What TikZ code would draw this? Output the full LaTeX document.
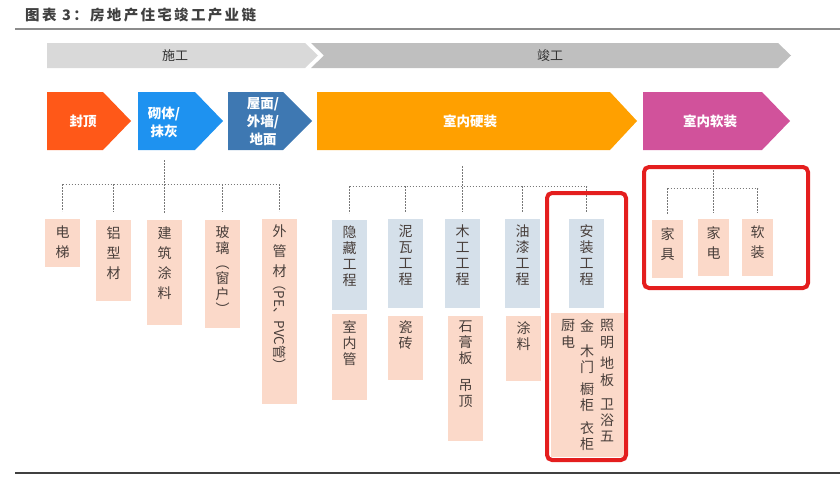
\documentclass[tikz,border=0pt]{standalone}
\usepackage{fontspec}
\newfontfamily\cjk{Noto Sans CJK SC}
\usepackage{graphicx}
\definecolor{peach}{RGB}{251,217,201}
\definecolor{bluegray}{RGB}{213,224,234}
\definecolor{txt}{RGB}{72,62,58}
\definecolor{cfeng}{RGB}{255,88,24}
\definecolor{cqi}{RGB}{30,146,240}
\definecolor{cwu}{RGB}{62,120,178}
\definecolor{cying}{RGB}{255,160,0}
\definecolor{cruan}{RGB}{209,82,155}
\definecolor{cshi}{RGB}{217,217,217}
\definecolor{cjun}{RGB}{191,191,191}
\definecolor{hired}{RGB}{228,30,30}
\definecolor{conngray}{RGB}{120,120,120}
\tikzset{
  pbox/.style={fill=peach, draw=none, inner sep=0pt, anchor=north west, minimum width=35pt},
  bbox/.style={fill=bluegray, draw=none, inner sep=0pt, anchor=north west, minimum width=35pt},
  vt/.style={font=\cjk\fontsize{14}{20}\selectfont, text=txt, align=center, inner sep=0pt, anchor=north},
  vts/.style={font=\cjk\fontsize{14}{16}\selectfont, text=txt, align=center, inner sep=0pt, anchor=north},
  chev/.style={font=\cjk\bfseries\fontsize{13.5}{18}\selectfont, text=white, align=center, inner sep=0pt},
  bar/.style={font=\cjk\fontsize{13}{16}\selectfont, text=black!80, inner sep=0pt},
  conn/.style={draw=conngray, line width=0.9pt, dash pattern=on 1.6pt off 1.4pt},
  hl/.style={draw=hired, line width=4pt, rounded corners=5pt},
}
\begin{document}
\begin{tikzpicture}[x=1pt,y=-1pt]
\useasboundingbox (0,0) rectangle (840,479);
% title
\node[anchor=west, inner sep=0pt, font=\cjk\bfseries\fontsize{14.5}{16}\selectfont\addfontfeature{LetterSpace=16}, text=black!75] (title) at (25,15) {图表 3：房地产住宅竣工产业链};
\draw[draw=black!45, line width=1.6pt] (15,29) -- (840,29);
\draw[draw=black!75, line width=1.2pt] (15,473) -- (840,473);
% top bars
\fill[cshi] (47,43) -- (305,43) -- (318,55.5) -- (305,68) -- (47,68) -- cycle;
\fill[cjun] (311,43) -- (778,43) -- (791,55.5) -- (778,68) -- (311,68) -- (324,55.5) -- cycle;
\node[bar] (shigong) at (175,55.5) {施工};
\node[bar] (jungong) at (550,55.5) {竣工};
% chevrons
\fill[cfeng] (47,92) -- (103,92) -- (131,121) -- (103,150) -- (47,150) -- cycle;
\fill[cqi] (138,92) -- (195,92) -- (223,121) -- (195,150) -- (138,150) -- cycle;
\fill[cwu] (228,92) -- (283,92) -- (312,121) -- (283,150) -- (228,150) -- cycle;
\fill[cying] (317,92) -- (610,92) -- (637,121) -- (610,150) -- (317,150) -- cycle;
\fill[cruan] (643,92) -- (762,92) -- (790,121) -- (762,150) -- (643,150) -- cycle;
\node[chev] (fengding) at (83,121) {封顶};
\node[chev] (qiti) at (164,122) {砌体/\\抹灰};
\node[chev] (wumian) at (263,122) {屋面/\\外墙/\\地面};
\node[chev] (yingzhuang) at (470,121) {室内硬装};
\node[chev] (ruanzhuang) at (710,121) {室内软装};
% ---- group 1: construction ----
\node[pbox, minimum height=48pt] (b1) at (45,219) {};
\node[pbox, minimum height=81pt] (b2) at (96,220) {};
\node[pbox, minimum height=105pt] (b3) at (147,220) {};
\node[pbox, minimum height=108pt] (b4) at (205,220) {};
\node[pbox, minimum height=185pt] (b5) at (262,219) {};
\node[vt] (b1t) at ([yshift=-7pt]b1.north) {电\\梯};
\node[vt] (b2t) at ([yshift=-7pt]b2.north) {铝\\型\\材};
\node[vt] (b3t) at ([yshift=-7pt]b3.north) {建\\筑\\涂\\料};
\node[vt, font=\cjk\fontsize{14}{15.3}\selectfont] (b4t) at ([yshift=-6pt]b4.north) {玻\\璃\\︵\\窗\\户\\︶};
\node[vt] (b5t) at ([yshift=-6pt]b5.north) {外\\管\\材};
\node[vt, font=\cjk\fontsize{13.5}{15}\selectfont, rotate=-90, anchor=west] (b5r) at ([yshift=-58pt]b5.north) {（PE、PVC管）};
\coordinate (t1) at (b3.north |- 0,160);
\coordinate (bus1) at (0,184);
\draw[conn] (t1) -- ([yshift=7pt]b3.north);
\draw[conn] (b1.north |- bus1) -- (b5.north |- bus1);
\draw[conn] (b1.north |- bus1) -- ([yshift=8pt]b1.north);
\draw[conn] (b2.north |- bus1) -- ([yshift=8pt]b2.north);
\draw[conn] (b4.north |- bus1) -- ([yshift=8pt]b4.north);
\draw[conn] (b5.north |- bus1) -- ([yshift=8pt]b5.north);
% ---- group 2: hard decoration ----
\node[bbox, minimum height=90pt] (h1) at (332,220) {};
\node[bbox, minimum height=89pt] (h2) at (388,219) {};
\node[bbox, minimum height=89pt] (h3) at (445,219) {};
\node[bbox, minimum height=89pt] (h4) at (505,219) {};
\node[bbox, minimum height=89pt] (h5) at (569,219) {};
\node[vts] (h1t) at ([yshift=-6pt]h1.north) {隐\\藏\\工\\程};
\node[vts] (h2t) at ([yshift=-6pt]h2.north) {泥\\瓦\\工\\程};
\node[vts] (h3t) at ([yshift=-6pt]h3.north) {木\\工\\工\\程};
\node[vts] (h4t) at ([yshift=-6pt]h4.north) {油\\漆\\工\\程};
\node[vts] (h5t) at ([yshift=-6pt]h5.north) {安\\装\\工\\程};
\node[pbox, minimum height=86pt] (p1) at (332,314) {};
\node[pbox, minimum height=64pt] (p2) at (388,316) {};
\node[pbox, minimum height=125pt] (p3) at (448,316) {};
\node[pbox, minimum height=65pt] (p4) at (506,316) {};
\node[pbox, minimum width=74pt, minimum height=144pt] (p5) at (551,313) {};
\node[vts] (p1t) at ([yshift=-6pt]p1.north) {室\\内\\管};
\node[vts] (p2t) at ([yshift=-5pt]p2.north) {瓷\\砖};
\node[vts] (p3t) at ([yshift=-5pt]p3.north) {石\\膏\\板\\[11pt]吊\\顶};
\node[vts] (p4t) at ([yshift=-5pt]p4.north) {涂\\料};
\node[vts] (p5a) at (607,319) {照\\[1pt]明\\[5pt]地\\[1pt]板\\[8pt]卫\\浴\\五};
\node[vts] (p5b) at (587,319) {金\\[9pt]木\\门\\[6pt]橱\\柜\\[7pt]衣\\柜};
\node[vts] (p5c) at (568,319) {厨\\[1pt]电};
\coordinate (t2) at (h3.north |- 0,166);
\coordinate (bus2) at (0,186);
\draw[conn] (t2) -- ([yshift=7pt]h3.north);
\draw[conn] (h1.north |- bus2) -- (h5.north |- bus2);
\draw[conn] (h1.north |- bus2) -- ([yshift=7pt]h1.north);
\draw[conn] (h2.north |- bus2) -- ([yshift=7pt]h2.north);
\draw[conn] (h4.north |- bus2) -- ([yshift=7pt]h4.north);
\draw[conn] (h5.north |- bus2) -- ([yshift=7pt]h5.north);
\draw[hl] (547,193) rectangle (626,460);
% ---- group 3: soft decoration ----
\node[pbox, minimum width=31pt, minimum height=58pt] (s1) at (652,220) {};
\node[pbox, minimum width=31pt, minimum height=57pt] (s2) at (698,219) {};
\node[pbox, minimum width=31pt, minimum height=57pt] (s3) at (742,219) {};
\node[vt] (s1t) at ([yshift=-7pt]s1.north) {家\\具};
\node[vt] (s2t) at ([yshift=-7pt]s2.north) {家\\电};
\node[vt] (s3t) at ([yshift=-7pt]s3.north) {软\\装};
\coordinate (t3) at (s2.north |- 0,170);
\coordinate (bus3) at (0,188);
\draw[conn] (t3) -- ([yshift=6pt]s2.north);
\draw[conn] (s1.north |- bus3) -- (s3.north |- bus3);
\draw[conn] (s1.north |- bus3) -- ([yshift=6pt]s1.north);
\draw[conn] (s3.north |- bus3) -- ([yshift=6pt]s3.north);
\draw[hl] (644,167) rectangle (808,288);
\end{tikzpicture}
\end{document}
